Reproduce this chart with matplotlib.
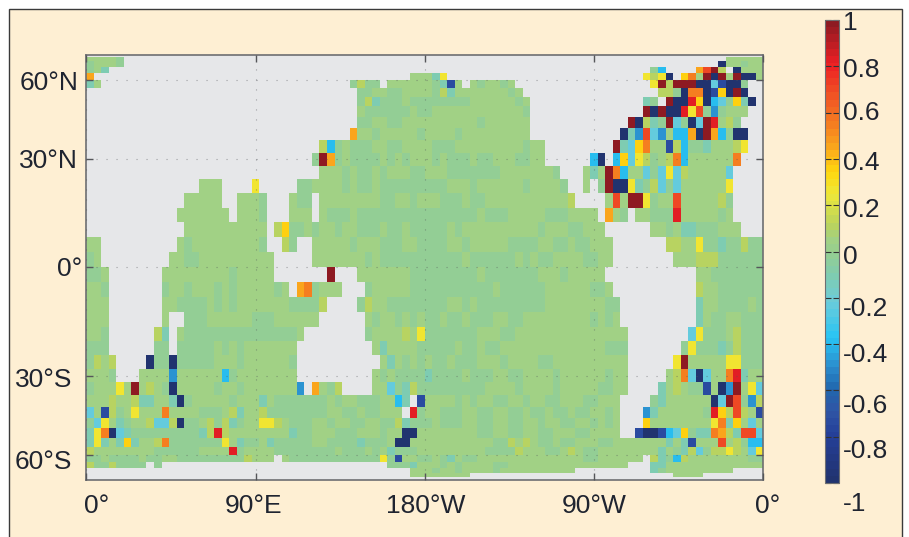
import numpy as np
import matplotlib
matplotlib.use('Agg')
import matplotlib.pyplot as plt
from matplotlib.colors import LinearSegmentedColormap
from matplotlib.patches import Rectangle

plt.rcParams['font.family'] = ['Liberation Sans', 'DejaVu Sans']

# one row per 4 degree band, north to south, 90 cells of 4 degrees from 0E
CELLS = [
    "aaaab..... .......... .......... .......... .......... .......... .......... .......... .....aaaaa",
    "baaab..... .......... .......... .......... .......... .......... .......... .......... ....Naabaa",
    "bat....... .......... .......... .......... .......... .......... .......... .....bC... .orDg.Naaa",
    "o......... .......... .......... .......... ...aaaty.. .......... .......... ....ygyN.Y OaDNDaDNNa",
    "ta........ .......... .......... .....bgbb. aaaaaabtna .abaaba... .......... .....yDgDD DNNcnNNb..",
    ".......... .......... .......... ......bbaa bbaaaabgta aaaaaaba.. .......... ......ggbN OONnYNDN..",
    ".......... .......... .......... ......bgtb bbabbbbbbb baaaaaaba. .......... ....tb.DNN RYNCcbYtN.",
    ".......... .......... .......... ......abbb bbbabbaaaa aaaaaaaab. .......... ....DNDNNR yrbBbaaa..",
    ".......... .......... .......... ......bbaa bbaaaaaaaa aabaaaaaa. .......... ..DNgtbDcb NcDRagb...",
    ".......... .......... .......... .....oaaba aaaabaaaab aaaaaaaaa. .......... .NtBrcBaCC oNDoCbNN..",
    ".......... .......... .......... .gCbabbbaa bbaaaabbba aaaaaaaaba a......... DtcYOaangC bbtaaagy..",
    ".......... .......... .......... bDobabbbba babaaababb babbaaabba a......CN. CYcygbagOC aaaaaaO...",
    ".......... .......... .......... .aaababbab aaabbaaabb bbbbbaaaaa aab...ataD OCaacbcycg aaaaac....",
    ".......... .....aaa.. ..y.....bb aaaababbab bbbbbbbbaa abaaaaaaba aaab..a.bD NNytbgcbca aaaaay....",
    ".......... ...aaaaa.. aaab...abb .aaaaaaaab baabaaabbb abbaaaaaaa aaaag....a raDDybaara aaaagb....",
    ".......... ..aaaaaaa. aaab...aaa .abbbabbbb bbbbbbbbbb bbabbbaaaa abbbaaaa.o ab.aabbbRa aaaaba....",
    ".......... ...aaaaaaa aaaa.gYbba baabaabbba bbabbbbbab aaaaaaaaaa baaabbaaa. .....aabat tbbbaaa...",
    "aa........ ..abaaaaaa aaab..gb.. aaaaabaaab bbaabbbbaa baaaaabbbb aabbabbaaa .......gga aybbtbbgbb",
    "ba........ .aabbaaaaa aaaaa..... aaaaaaabab bbbbbbbbbb abbbbbbaba bbaaaabbaa ........aa agggbbbbbb",
    "bba....... aaaaaaaaab aaaaa..... ..D...aaaa aaabbbbbbb bbabbbbbbb aaabaaaaa. .......... .aabbbbbbb",
    "aab....... baabaaabab aaaaaba.oO baaa...baa aaabbbbbbb bbbbabbbbb baaaaaabba .......... .gaabbbbbb",
    "aaa....... aabbbbabab aaaaaaabbb bg....bgaa bbbbbbbbaa babbbbbbbb baaaaaaaab b......... .taabbbbab",
    "aaa....... a..bbbaaaa aabbbaaaaa a......aba abababbabb abbbaabbaa aaaaaaabab a......... .tabbaabbb",
    "aab......g t.abbbbbbb bbbbbbbba. .......baa aagaybbbbb bbaaabbaaa aaaaaaaaaa aa........ cybbbagbbb",
    "bbb......b b.bbbbbaba baaaaaaa.. ........at aaaabbbbba bbabbaaaaa aaaaaaaaab bb.......b ybbbtbgbbb",
    "bgag....Nb bNbbbbbaaa baaaaaab.. .........a tabababbab bbaaabaaaa bbaaaaaaaa aa......yD aaaaayybbb",
    "aaab...aaa aBaaaaaaCb aaaaaaaa.. ........ab abbbbtbbbb abbbaabbaa aabaaaaaab aa.....agO cNcaaORtaa",
    "baaayaDaga bNaaaaabaa baaaaaaaB. oabg....aa cbtgbbbbbb bbbaaaabaa aabaaaaabb aa....taga bbnaNBDayc",
    "aaagaagtta atNbaaaaab aaatabbbbb bbabaabbba aCt.naaaab abaabbaaba abbaaabbaa a....btaaa aaaNcDrbBg",
    "cangbayaaa Oaaaabbbag taagbbbbbb bbaabbabba aa.Rbaabbb aabbaabbab babbabbaab a...Btaaaa aabRYgrgan",
    "bcyatbaagc cgNbbagbgt baayygabbb aabaabbaab bgtbbbabbb aabbaabbaa baabbaabab a...Yaaaaa aaayOtYaca",
    "tyONctbbbb bbbbbtgRga aaaaaaatbb aaabbbaaab aaNNaaaaaa aabbaabbaa bbaaabbaaa a..nNNnCcY bttOogtrrc",
    "tytatYtaag Obbbbbbbya tbbatbbbbb aabbbbtbbb aNNaaaaaaa aaaabbgaga bbabbaaabb aaaaaaatat naaaragbCC",
    "gaaaaaaaab bbbbbaaaaR baaaabbbbb bbbabbbaba tbbbaaaaaa aaabbbbgaa abbagabbaa aaaaaatabt gcbggygacy",
    "bbabbbbabb aabbbbbbbb bgaaa.abbb bbbbbbbbby bnaabbabta bbaaaaaaaa aaaaaabbaa aaaa.gtbCg aaaaaaaabb",
    "gbbgbbbb.b .......... .......... .......... bbbtaaabab aaaabbaaaa aaaaaaaaaa aa...ttaaa aaaaaaaaaa",
    ".......... .......... .......... .......... ...aaabaab aaaabaaaaa aaaaa..... .....tbaaa aaaaaa....",
    ".......... .......... .......... .......... ...aaaaaaa a......... .......... ........aa aa........",
]
SYMBOLS = list("NnBCctbagyYoOrRD")
SYMBOL_VALUES = [-.97, -.72, -.5, -.38, -.22, -.1, -.01, .05, .12, .25, .35, .45, .55, .7, .82, 1]

CMAP_VALUES = [-1, -.8, -.7, -.6, -.5, -.38, -.22, -.1, 0, .05, .12, .25, .35, .45, .55, .7, .82, 1]
CMAP_COLORS = ['#21336F', '#25409A', '#2F55A5', '#2167AE', '#2B8FCF', '#27C4F4', '#6CCCDA', '#80CCAE',
               '#97CE90', '#A2D184', '#BBD35C', '#EEE83A', '#FFD70E', '#FBA91C', '#F58020', '#EF4E24',
               '#ED1F24', '#8E1A22']

lon_ticks = [0, 90, 180, 270, 360]
lon_labels = ['0°', '90°E', '180°W', '90°W', '0°']
lat_ticks = [60, 30, 0, -30, -60]
lat_labels = ['60°N', '30°N', '0°', '30°S', '60°S']
cbar_ticks = [1, .8, .6, .4, .2, 0, -.2, -.4, -.6, -.8, -1]
cbar_labels = ['1', '0.8', '0.6', '0.4', '0.2', '0', '-0.2', '-0.4', '-0.6', '-0.8', '-1']

W, H = 909, 537
PAPER = '#FEEFD3'
INK = '#1F2430'


def axes_box(left, top, right, bottom):
    return [left/W, 1-bottom/H, (right-left)/W, (bottom-top)/H]


lookup = dict(zip(SYMBOLS, SYMBOL_VALUES))
rows = [r.replace(' ', '') for r in CELLS]
data = np.array([[lookup.get(ch, np.nan) for ch in r] for r in rows])

lon_edges = np.arange(0, 361, 4)
lat_edges = np.arange(76, -77, -4)
y_edges = np.sin(np.radians(lat_edges))
lat_pos = np.sin(np.radians(lat_ticks))

nodes = [(v+1)/2 for v in CMAP_VALUES]
cmap = LinearSegmentedColormap.from_list('ocean', list(zip(nodes, CMAP_COLORS)), N=64)

fig = plt.figure(figsize=(W/100, H/100), dpi=100, facecolor='white')
fig.add_artist(Rectangle((8.5/W, -0.01), (901.5-8.5)/W, 1.01-9/H, transform=fig.transFigure,
                         facecolor=PAPER, edgecolor='#3A3A3A', lw=1, zorder=-1))

ax = fig.add_axes(axes_box(86.3, 54.7, 763.3, 480))
ax.set_facecolor('#E6E7E9')
mesh = ax.pcolormesh(lon_edges, y_edges, data, cmap=cmap, vmin=-1, vmax=1)
ax.set_xlim(0, 360)
ax.set_ylim(-.982, .982)
ax.set_xticks(lon_ticks)
ax.set_yticks(lat_pos)
ax.set_xticklabels([])
ax.set_yticklabels([])
ax.tick_params(direction='in', length=5, width=1, color='#55565A', top=True, right=True)
ax.grid(True, ls=(0, (1, 8)), color='#55565A', lw=.8, alpha=.5)
ax.set_axisbelow(False)
for s in ax.spines.values():
    s.set_color('#6D6E71')
    s.set_linewidth(1.2)

# the tick labels were placed by hand in the original, so each has its own nudge
x_nudge = [10, -2, 1, 0, 4]
for v, lab, dx in zip(lon_ticks, lon_labels, x_nudge):
    ax.annotate(lab, (v, 0), xycoords=('data', 'axes fraction'), xytext=(dx*.72, -26*.72),
                textcoords='offset points', ha='center', va='center', fontsize=19, color=INK)
y_nudge = [(-8, -3), (-8, -2), (-4, -2), (-14, -4), (-14, -7)]
for v, lab, (dx, dy) in zip(lat_pos, lat_labels, y_nudge):
    ax.annotate(lab, (0, v), xycoords=('axes fraction', 'data'), xytext=(dx*.72, dy*.72),
                textcoords='offset points', ha='right', va='center', fontsize=19, color=INK)

cax = fig.add_axes(axes_box(825, 20, 839, 483))
cb = fig.colorbar(mesh, cax=cax)
cb.set_ticks(cbar_ticks)
cb.set_ticklabels([])
cb.ax.tick_params(direction='in', length=4, width=.8, color='#333333', left=True, right=True)
cb.outline.set_edgecolor('#6D6E71')
cb.outline.set_linewidth(.8)
cb_nudge = [-3, -4, 0, -4, -5, -6, -11, -11, -16, -14, -21]
for v, lab, dy in zip(cbar_ticks, cbar_labels, cb_nudge):
    cax.annotate(lab, (1, v), xycoords=('axes fraction', 'data'), xytext=(4*.72, dy*.72),
                 textcoords='offset points', ha='left', va='center', fontsize=19, color=INK)

fig.savefig('out.png', dpi=100, facecolor=fig.get_facecolor())
